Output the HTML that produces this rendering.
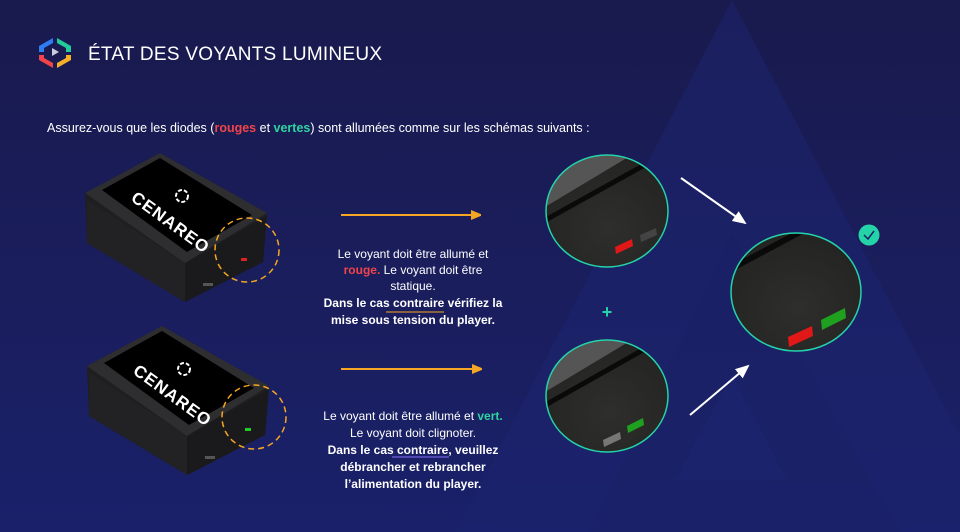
<!DOCTYPE html>
<html><head><meta charset="utf-8"><style>
html,body{margin:0;padding:0;width:960px;height:532px;overflow:hidden;background:#181a4e}
svg{display:block}
</style></head><body>
<svg width="960" height="532" viewBox="0 0 960 532" xmlns="http://www.w3.org/2000/svg" font-family="Liberation Sans, sans-serif">
<defs>
<linearGradient id="bg" x1="0" y1="0" x2="0" y2="1">
<stop offset="0" stop-color="#191a4d"/><stop offset="1" stop-color="#1a216a"/></linearGradient>
<radialGradient id="ph" cx="0.5" cy="0.6" r="0.6"><stop offset="0" stop-color="#2e2e2c"/><stop offset="1" stop-color="#232322"/></radialGradient>
<marker id="oa" markerWidth="10" markerHeight="10" refX="9" refY="5" orient="auto" markerUnits="userSpaceOnUse"><path d="M0,0 L12,5 L0,10z" fill="#f5a623"/></marker>
<marker id="wa" markerWidth="14" markerHeight="12" refX="12" refY="6" orient="auto" markerUnits="userSpaceOnUse"><path d="M0,0 L14,6 L0,12z" fill="#fff"/></marker>
<clipPath id="c1"><ellipse cx="607" cy="211" rx="61" ry="56"/></clipPath>
<clipPath id="c2"><ellipse cx="607" cy="396" rx="61" ry="56"/></clipPath>
<clipPath id="c3"><ellipse cx="796" cy="292" rx="65" ry="59"/></clipPath>
</defs>
<rect width="960" height="532" fill="url(#bg)"/>
<polygon points="732,0 456,532 1010,532" fill="#1e2470" opacity="0.55"/>
<polygon points="732,233 590,532 900,532" fill="#1a2064" opacity="0.5"/>
<polygon points="732,375 675,480 787,480" fill="#1d2574" opacity="0.5"/>

<g transform="translate(55,52)">
<polygon points="-16,-6 -2,-14 -2,-9 -11,-4 -11,0 -16,0" fill="#2f7bf0"/>
<polygon points="2,-14 16,-6 16,0 11,0 11,-4 2,-9" fill="#22c99b"/>
<polygon points="-16,3 -11,3 -11,6 -2,11 -2,16 -16,8" fill="#f0444a"/>
<polygon points="16,3 11,3 11,6 2,11 2,16 16,8" fill="#f5b02a"/>
<polygon points="-3,-4 4,0 -3,4" fill="#ccd"/>
</g>
<text x="88" y="60" fill="#fff" font-size="19" textLength="294">ÉTAT DES VOYANTS LUMINEUX</text>
<text x="47" y="132" fill="#fff" font-size="12.5">Assurez-vous que les diodes (<tspan fill="#f0444a" font-weight="bold">rouges</tspan> et <tspan fill="#2ed3a0" font-weight="bold">vertes</tspan>) sont allumées comme sur les schémas suivants :</text>

<g id="dev">
<polygon points="85,193 160,153 267,213 263,262 185,302 87,243" fill="#1f1f21"/>
<polygon points="85,193 160,153 267,213 185,263" fill="#2e2e31"/>
<polygon points="87,200 185,263 185,302 87,243" fill="#222224"/>
<polygon points="185,263 267,216 263,262 185,302" fill="#1a1a1c"/>
<polygon points="102,190 160,158 252,215 187,252" fill="#000"/>
<text x="0" y="0" transform="translate(130,200) rotate(36)" fill="#fff" font-size="17" font-weight="bold" letter-spacing="1">CENAREO</text>
<circle cx="182" cy="196" r="6" fill="none" stroke="#fff" stroke-width="2" stroke-dasharray="4 2"/>
<rect x="203" y="283" width="10" height="3" fill="#555"/>
</g>
<rect x="241" y="258" width="6" height="3" fill="#d22"/>
<circle cx="247" cy="250" r="32" fill="none" stroke="#f5a623" stroke-width="1.5" stroke-dasharray="6 4"/>
<use href="#dev" transform="translate(2,173)"/>
<rect x="245" y="428" width="6" height="3" fill="#2c2"/>
<circle cx="254" cy="417" r="32" fill="none" stroke="#f5a623" stroke-width="1.5" stroke-dasharray="6 4"/>

<line x1="341" y1="215" x2="480" y2="215" stroke="#f5a623" stroke-width="2" marker-end="url(#oa)"/>
<line x1="341" y1="369" x2="481" y2="369" stroke="#f5a623" stroke-width="2" marker-end="url(#oa)"/>

<g fill="#fff" font-size="12" text-anchor="middle">
<text x="413" y="258">Le voyant doit être allumé et</text>
<text x="413" y="274"><tspan fill="#f0444a" font-weight="bold">rouge.</tspan> Le voyant doit être</text>
<text x="413" y="290">statique.</text>
<text x="413" y="307" font-weight="bold">Dans le cas contraire vérifiez la</text>
<text x="413" y="324" font-weight="bold">mise sous tension du player.</text>
<text x="413" y="420">Le voyant doit être allumé et <tspan fill="#2ed3a0" font-weight="bold">vert.</tspan></text>
<text x="413" y="437">Le voyant doit clignoter.</text>
<text x="413" y="454" font-weight="bold">Dans le cas contraire, veuillez</text>
<text x="413" y="471" font-weight="bold">débrancher et rebrancher</text>
<text x="413" y="488" font-weight="bold">l’alimentation du player.</text>
</g>
<line x1="386" y1="312" x2="444" y2="312" stroke="#f5a623" stroke-width="1"/>
<line x1="392" y1="457" x2="449" y2="457" stroke="#8a6cff" stroke-width="1"/>

<g clip-path="url(#c1)">
<rect x="540" y="150" width="140" height="130" fill="url(#ph)"/>
<polygon points="540,150 640,150 540,210" fill="#555"/>
<line x1="540" y1="223" x2="650" y2="162" stroke="#0a0a0a" stroke-width="5"/>
<polygon points="615,247 632,239 633,246 616,254" fill="#e01818"/>
<polygon points="640,235 656,228 657,235 641,242" fill="#444"/>
</g>
<ellipse cx="607" cy="211" rx="61" ry="56" fill="none" stroke="#24d3a8" stroke-width="1.5"/>
<g clip-path="url(#c2)">
<rect x="540" y="335" width="140" height="130" fill="url(#ph)"/>
<polygon points="540,335 640,335 540,395" fill="#555"/>
<line x1="540" y1="408" x2="650" y2="346" stroke="#0a0a0a" stroke-width="5"/>
<polygon points="603,440 620,432 621,439 604,447" fill="#777"/>
<polygon points="627,426 643,418 644,425 628,433" fill="#1fa01f"/>
</g>
<ellipse cx="607" cy="396" rx="61" ry="56" fill="none" stroke="#24d3a8" stroke-width="1.5"/>
<g clip-path="url(#c3)">
<rect x="725" y="230" width="145" height="130" fill="url(#ph)"/>
<line x1="725" y1="272" x2="800" y2="232" stroke="#0a0a0a" stroke-width="6"/>
<polygon points="788,337 812,326 813,336 789,347" fill="#e01818"/>
<polygon points="821,320 845,308 846,318 822,330" fill="#1fa01f"/>
</g>
<ellipse cx="796" cy="292" rx="65" ry="59" fill="none" stroke="#24d3a8" stroke-width="1.5"/>

<text x="607" y="318" fill="#24d3a8" font-size="18" font-weight="bold" text-anchor="middle">+</text>
<line x1="681" y1="178" x2="745" y2="223" stroke="#fff" stroke-width="2" marker-end="url(#wa)"/>
<line x1="690" y1="415" x2="748" y2="366" stroke="#fff" stroke-width="2" marker-end="url(#wa)"/>
<circle cx="869" cy="235" r="10.5" fill="#24d3a8"/>
<polyline points="864,235 868,239 874,231" fill="none" stroke="#1a2060" stroke-width="1.5"/>
</svg>
</body></html>
